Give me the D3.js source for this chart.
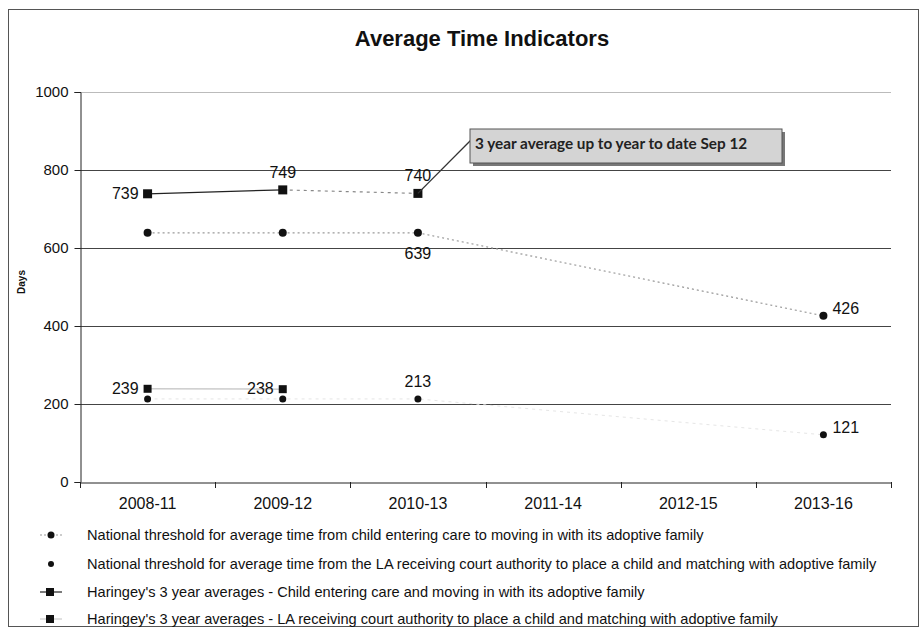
<!DOCTYPE html>
<html>
<head>
<meta charset="utf-8">
<script src="https://cdn.jsdelivr.net/npm/d3@7/dist/d3.min.js"></script>
<style>
  body { margin: 0; background: #fff; }
  svg { display: block; }
</style>
</head>
<body>
<svg id="chart" width="923" height="632"></svg>
<script>
// ---- data ----
const categories = ["2008-11", "2009-12", "2010-13", "2011-14", "2012-15", "2013-16"];
const nationalCare = [639, 639, 639, null, null, 426];
const nationalCourt = [213, 213, 213, null, null, 121];
const haringeyCare = [739, 749, 740, null, null, null];
const haringeyCourt = [239, 238, null, null, null, null];
const yTicks = [0, 200, 400, 600, 800, 1000];
const legendLabels = [
  "National threshold for average time from child entering care to moving in with its adoptive family",
  "National threshold for average time from the LA receiving court authority to place a child and matching with adoptive family",
  "Haringey's 3 year averages - Child entering care and moving in with its adoptive family",
  "Haringey's 3 year averages - LA receiving court authority to place a child and matching with adoptive family"
];
const titleText = "Average Time Indicators";
const yTitle = "Days";
const calloutText = "3 year average up to year to date Sep 12";

// ---- layout ----
const svg = d3.select("#chart");
const font = "'Liberation Sans', Arial, sans-serif";
const plot = { left: 80, right: 891, top: 92, bottom: 482 };

const x = d3.scaleBand().domain(categories).range([plot.left, plot.right]);
const cx = c => x(c) + x.bandwidth() / 2;
const y = d3.scaleLinear().domain([0, 1000]).range([plot.bottom, plot.top]);

// outer border
svg.append("rect").attr("x", 8.5).attr("y", 9.5).attr("width", 910).attr("height", 617)
  .attr("fill", "none").attr("stroke", "#555").attr("stroke-width", 1);

// title
svg.append("text").attr("x", 482).attr("y", 46).attr("text-anchor", "middle")
  .attr("font-family", font).attr("font-weight", "bold").attr("font-size", 22)
  .attr("fill", "#111").text(titleText);

// gridlines
svg.append("g").selectAll("line").data(yTicks.filter(d => d > 0)).join("line")
  .attr("x1", plot.left).attr("x2", plot.right)
  .attr("y1", d => Math.round(y(d)) + 0.5).attr("y2", d => Math.round(y(d)) + 0.5)
  .attr("stroke", d => d === 1000 ? "#bbb" : "#444").attr("stroke-width", 1);

// y axis
const yAxis = svg.append("g").attr("transform", `translate(${plot.left + 0.5},0)`)
  .call(d3.axisLeft(y).tickValues(yTicks).tickSize(6).tickPadding(6).tickFormat(d3.format("d")));
yAxis.select(".domain").attr("stroke", "#222");
yAxis.selectAll(".tick line").attr("stroke", "#222");
yAxis.selectAll("text").attr("font-family", font).attr("font-size", 15).attr("fill", "#111");

// y title
svg.append("text").attr("transform", "translate(25,282) rotate(-90)")
  .attr("text-anchor", "middle").attr("font-family", font).attr("font-weight", "bold")
  .attr("font-size", 10).attr("fill", "#111").text(yTitle);

// x axis
const xAxis = svg.append("g").attr("transform", `translate(0,${plot.bottom + 0.5})`)
  .call(d3.axisBottom(x).tickSize(0).tickPadding(15));
xAxis.select(".domain").attr("stroke", "#222");
xAxis.selectAll("text").attr("font-family", font).attr("font-size", 16).attr("fill", "#111");
// boundary ticks
const bounds = categories.map(c => x(c)).concat([plot.right]);
svg.append("g").selectAll("line").data(bounds).join("line")
  .attr("x1", d => Math.round(d) + 0.5).attr("x2", d => Math.round(d) + 0.5)
  .attr("y1", plot.bottom).attr("y2", plot.bottom + 6).attr("stroke", "#222");

// helper
function pts(arr) {
  return arr.map((v, i) => ({ c: categories[i], v })).filter(d => d.v !== null);
}
const line = d3.line().x(d => cx(d.c)).y(d => y(d.v));

// series lines
svg.append("path").attr("d", line(pts(nationalCare))).attr("fill", "none")
  .attr("stroke", "#999").attr("stroke-width", 1.2).attr("stroke-dasharray", "2,3");
svg.append("path").attr("d", line(pts(nationalCourt))).attr("fill", "none")
  .attr("stroke", "#e6e6e6").attr("stroke-width", 1).attr("stroke-dasharray", "3,4");
const hc = pts(haringeyCare);
svg.append("path").attr("d", line(hc.slice(0, 2))).attr("fill", "none")
  .attr("stroke", "#222").attr("stroke-width", 1.2);
svg.append("path").attr("d", line(hc.slice(1, 3))).attr("fill", "none")
  .attr("stroke", "#888").attr("stroke-width", 1.2).attr("stroke-dasharray", "3,4");
svg.append("path").attr("d", line(pts(haringeyCourt))).attr("fill", "none")
  .attr("stroke", "#ccc").attr("stroke-width", 1.5);

// markers
function circles(arr, r) {
  svg.append("g").selectAll("circle").data(pts(arr)).join("circle")
    .attr("cx", d => cx(d.c)).attr("cy", d => y(d.v)).attr("r", r).attr("fill", "#111");
}
function squares(arr, s) {
  svg.append("g").selectAll("rect").data(pts(arr)).join("rect")
    .attr("x", d => cx(d.c) - s / 2).attr("y", d => y(d.v) - s / 2)
    .attr("width", s).attr("height", s).attr("fill", "#111");
}
circles(nationalCare, 4);
circles(nationalCourt, 3.5);
squares(haringeyCare, 9);
squares(haringeyCourt, 8);

// data labels (which points are labelled and where)
const labels = [
  { arr: haringeyCare, i: 0, pos: "left" },
  { arr: haringeyCare, i: 1, pos: "above" },
  { arr: haringeyCare, i: 2, pos: "above" },
  { arr: nationalCare, i: 2, pos: "below" },
  { arr: nationalCare, i: 5, pos: "right" },
  { arr: haringeyCourt, i: 0, pos: "left" },
  { arr: haringeyCourt, i: 1, pos: "left" },
  { arr: nationalCourt, i: 2, pos: "above" },
  { arr: nationalCourt, i: 5, pos: "right" }
];
const off = { left: [-9, 5, "end"], right: [9, -2, "start"], above: [0, -12, "middle"], below: [0, 26, "middle"] };
svg.append("g").selectAll("text").data(labels).join("text")
  .attr("x", d => cx(categories[d.i]) + off[d.pos][0])
  .attr("y", d => y(d.arr[d.i]) + off[d.pos][1])
  .attr("text-anchor", d => off[d.pos][2])
  .attr("font-family", font).attr("font-size", 16).attr("fill", "#111")
  .text(d => d.arr[d.i]);

// callout
const box = { x: 470, y: 129, w: 312, h: 34 };
svg.append("rect").attr("x", box.x + 3).attr("y", box.y + 3).attr("width", box.w).attr("height", box.h)
  .attr("fill", "#777");
svg.append("line").attr("x1", box.x + 2).attr("y1", box.y + 10)
  .attr("x2", cx(categories[2])).attr("y2", y(haringeyCare[2]))
  .attr("stroke", "#333").attr("stroke-width", 1.3);
svg.append("rect").attr("x", box.x).attr("y", box.y).attr("width", box.w).attr("height", box.h)
  .attr("fill", "#d4d4d4").attr("stroke", "#555").attr("stroke-width", 1);
svg.append("text").attr("x", box.x + 5).attr("y", box.y + 20)
  .attr("font-family", "Lato, 'Open Sans', sans-serif").attr("font-weight", "bold")
  .attr("font-size", 15.3).attr("fill", "#222").text(calloutText);

// legend
const lg = svg.append("g");
const rowsY = [535, 564, 592, 619];
lg.selectAll("text").data(legendLabels).join("text")
  .attr("x", 87).attr("y", (d, i) => rowsY[i] + 5)
  .attr("font-family", font).attr("font-size", 14.6).attr("fill", "#111").text(d => d);
// row 1: dotted line + circle
lg.append("line").attr("x1", 40).attr("x2", 62).attr("y1", rowsY[0]).attr("y2", rowsY[0])
  .attr("stroke", "#999").attr("stroke-dasharray", "2,2");
lg.append("circle").attr("cx", 51).attr("cy", rowsY[0]).attr("r", 3.5).attr("fill", "#111");
// row 2: circle only
lg.append("circle").attr("cx", 51).attr("cy", rowsY[1]).attr("r", 3).attr("fill", "#111");
// row 3: solid line + square
lg.append("line").attr("x1", 40).attr("x2", 62).attr("y1", rowsY[2]).attr("y2", rowsY[2])
  .attr("stroke", "#222").attr("stroke-width", 1.2);
lg.append("rect").attr("x", 46).attr("y", rowsY[2] - 4).attr("width", 8).attr("height", 8).attr("fill", "#111");
// row 4: square with faint line
lg.append("line").attr("x1", 40).attr("x2", 62).attr("y1", rowsY[3]).attr("y2", rowsY[3])
  .attr("stroke", "#ccc").attr("stroke-width", 1.2);
lg.append("rect").attr("x", 46).attr("y", rowsY[3] - 4).attr("width", 8).attr("height", 8).attr("fill", "#111");
</script>
</body>
</html>
